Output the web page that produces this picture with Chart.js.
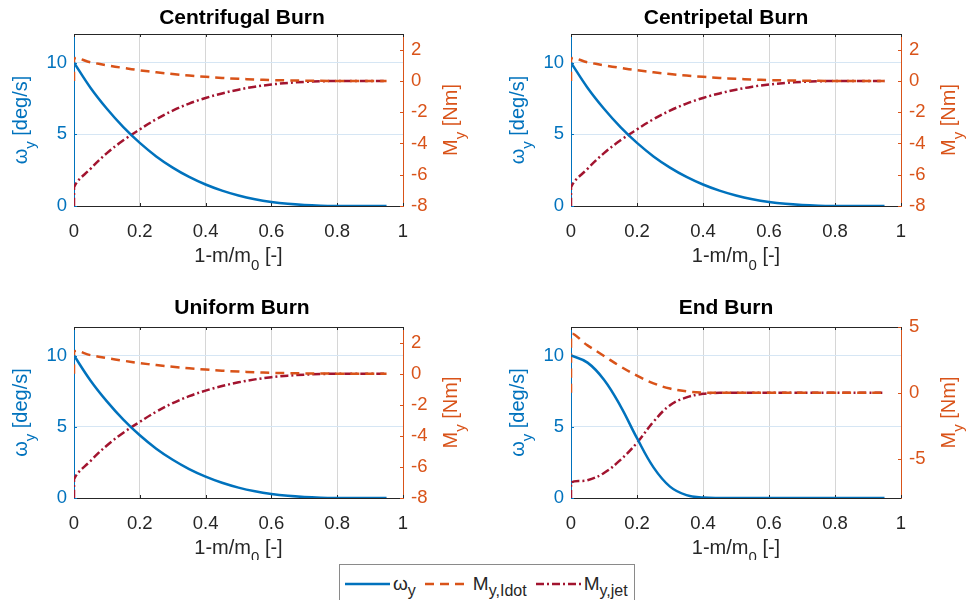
<!DOCTYPE html>
<html>
<head>
<meta charset="utf-8">
<title>Spin rate and moments vs. burned mass fraction</title>
<script src="https://cdn.jsdelivr.net/npm/chart.js@4.4.1/dist/chart.umd.min.js"></script>
<style>
  html, body { margin: 0; padding: 0; background: #fff; overflow: hidden; }
  body { width: 968px; height: 600px; position: relative; font-family: 'Liberation Sans', Arial, Helvetica, sans-serif; }
  canvas { position: absolute; }
  #legend {
    position: absolute; left: 339px; top: 564px; width: 296px; height: 46px;
    box-sizing: border-box; border: 1px solid #8a8a8a; background: #fff;
    display: flex; align-items: flex-start; padding: 9px 0 0 5px;
    font-size: 19px; color: #262626; white-space: nowrap;
  }
  #legend .item { display: flex; align-items: center; height: 20px; margin-right: 9px; }
  #legend .lbl { margin-left: 3px; line-height: 20px; }
  #legend sub { font-size: 16px; vertical-align: -6px; line-height: 0; }
</style>
</head>
<body>
<canvas id="pFugal" width="484" height="290" style="left:0;top:0"></canvas>
<canvas id="pPetal" width="484" height="290" style="left:484px;top:0"></canvas>
<canvas id="pUniform" width="484" height="270" style="left:0;top:290px"></canvas>
<canvas id="pEnd" width="484" height="270" style="left:484px;top:290px"></canvas>
<div id="legend"></div>

<script>
// burned mass fraction 1-m/m0 (first sample repeated: initial step at 0)
const massFrac = [0, 0, 0.05, 0.1, 0.15, 0.2, 0.25, 0.3, 0.35, 0.4, 0.45, 0.5, 0.55, 0.6, 0.65, 0.7, 0.75, 0.8, 0.85, 0.9, 0.95];

// centrifugal burn
const omegaFugal = [10, 10, 8.25, 6.78, 5.5, 4.4, 3.46, 2.68, 2.03, 1.5, 1.07, 0.73, 0.47, 0.28, 0.15, 0.07, 0.025, 0.005, 0, 0, 0];
const idotFugal  = [0, 1.4, 1.19, 1.0, 0.83, 0.68, 0.55, 0.44, 0.34, 0.26, 0.19, 0.135, 0.09, 0.055, 0.03, 0.015, 0.005, 0, 0, 0, 0];
const jetFugal   = [-8, -6.8, -5.62, -4.62, -3.8, -3.1, -2.45, -1.9, -1.45, -1.09, -0.8, -0.56, -0.37, -0.23, -0.13, -0.065, -0.025, -0.005, 0, 0, 0];

// centripetal burn
const omegaPetal = [10, 10, 8.25, 6.78, 5.5, 4.4, 3.46, 2.68, 2.03, 1.5, 1.07, 0.73, 0.47, 0.28, 0.15, 0.07, 0.025, 0.005, 0, 0, 0];
const idotPetal  = [0, 1.4, 1.19, 1.0, 0.83, 0.68, 0.55, 0.44, 0.34, 0.26, 0.19, 0.135, 0.09, 0.055, 0.03, 0.015, 0.005, 0, 0, 0, 0];
const jetPetal   = [-8, -6.8, -5.62, -4.62, -3.8, -3.1, -2.45, -1.9, -1.45, -1.09, -0.8, -0.56, -0.37, -0.23, -0.13, -0.065, -0.025, -0.005, 0, 0, 0];

// uniform burn
const omegaUniform = [10, 10, 8.25, 6.78, 5.5, 4.4, 3.46, 2.68, 2.03, 1.5, 1.07, 0.73, 0.47, 0.28, 0.15, 0.07, 0.025, 0.005, 0, 0, 0];
const idotUniform  = [0, 1.4, 1.19, 1.0, 0.83, 0.68, 0.55, 0.44, 0.34, 0.26, 0.19, 0.135, 0.09, 0.055, 0.03, 0.015, 0.005, 0, 0, 0, 0];
const jetUniform   = [-8, -6.8, -5.62, -4.62, -3.8, -3.1, -2.45, -1.9, -1.45, -1.09, -0.8, -0.56, -0.37, -0.23, -0.13, -0.065, -0.025, -0.005, 0, 0, 0];

// end burn
const omegaEnd = [10, 10, 9.5, 8.3, 6.45, 4.2, 2.15, 0.8, 0.2, 0.03, 0, 0, 0, 0, 0, 0, 0, 0, 0, 0, 0];
const idotEnd  = [0, 4.4, 3.6, 2.8, 2.0, 1.3, 0.72, 0.32, 0.11, 0.02, 0, 0, 0, 0, 0, 0, 0, 0, 0, 0, 0];
const jetEnd   = [-8, -6.85, -6.65, -6.1, -5.1, -3.8, -2.2, -0.95, -0.35, -0.08, 0, 0, 0, 0, 0, 0, 0, 0, 0, 0, 0];

// tick labels
const xTicks = [0, 0.2, 0.4, 0.6, 0.8, 1];
const omegaTicks = [0, 5, 10];
const momentTicks = [-8, -6, -4, -2, 0, 2];
const momentTicksEnd = [-5, 0, 5];

const seriesNames = [['ω', 'y'], ['M', 'y,Idot'], ['M', 'y,jet']];

const BLUE = '#0072BD';
const ORANGE = '#D95319';
const DARKRED = '#A2142F';
const DARK = '#262626';
const FONT = "'Liberation Sans', Arial, Helvetica, sans-serif";
const seriesColors = [BLUE, ORANGE, DARKRED];
const seriesDash = [[], [9, 6], [8, 3, 2, 3]];

Chart.defaults.font.family = FONT;

const TICK_LEN = 3;

function tickMarks(ctx, scale, x0, dir, color) {
  ctx.strokeStyle = color;
  ctx.beginPath();
  scale.ticks.forEach(t => {
    const py = Math.round(scale.getPixelForValue(t.value)) + 0.5;
    ctx.moveTo(x0, py);
    ctx.lineTo(x0 + dir * TICK_LEN, py);
  });
  ctx.stroke();
}

// text with subscripts, centred on (x, y), optionally rotated
function subText(ctx, parts, x, y, angle, color) {
  ctx.save();
  ctx.translate(x, y);
  ctx.rotate(angle);
  ctx.fillStyle = color;
  ctx.textAlign = 'left';
  ctx.textBaseline = 'alphabetic';
  const fontOf = p => p[1] ? '15px ' + FONT : '20px ' + FONT;
  let total = 0;
  parts.forEach(p => { ctx.font = fontOf(p); total += ctx.measureText(p[0]).width; });
  let cx = -total / 2;
  parts.forEach(p => {
    ctx.font = fontOf(p);
    ctx.fillText(p[0], cx, p[1] ? 15 : 7);
    cx += ctx.measureText(p[0]).width;
  });
  ctx.restore();
}

const xTitle = [['1-m/m', false], ['0', true], [' [-]', false]];
const omegaTitle = [['ω', false], ['y', true], [' [deg/s]', false]];
const momentTitle = [['M', false], ['y', true], [' [Nm]', false]];

const framePlugin = {
  id: 'frame',
  beforeDatasetsDraw(chart) {
    const { ctx, chartArea: a, scales } = chart;
    ctx.save();
    ctx.lineWidth = 1;
    ctx.strokeStyle = DARK;
    ctx.beginPath();
    ctx.moveTo(a.left, Math.round(a.top) + 0.5);
    ctx.lineTo(a.right, Math.round(a.top) + 0.5);
    scales.x.ticks.forEach(t => {
      const px = Math.round(scales.x.getPixelForValue(t.value)) + 0.5;
      ctx.moveTo(px, a.bottom);
      ctx.lineTo(px, a.bottom - TICK_LEN);
      ctx.moveTo(px, a.top);
      ctx.lineTo(px, a.top + TICK_LEN);
    });
    ctx.stroke();
    tickMarks(ctx, scales.yL, a.left, 1, BLUE);
    tickMarks(ctx, scales.yR, a.right, -1, ORANGE);
    ctx.restore();
  },
  afterDraw(chart) {
    const { ctx, chartArea: a } = chart;
    const midY = (a.top + a.bottom) / 2;
    subText(ctx, xTitle, (a.left + a.right) / 2, a.bottom + 48.5, 0, DARK);
    subText(ctx, omegaTitle, a.left - 54, midY, -Math.PI / 2, BLUE);
    subText(ctx, momentTitle, a.right + 47, midY, -Math.PI / 2, ORANGE);
  }
};

function points(arr) {
  return massFrac.map((x, i) => ({ x: x, y: arr[i] }));
}

const plainLabel = v => String(v);

function makePanel(id, title, omega, idot, jet, mMin, mMax, mTicks, area) {
  const canvas = document.getElementById(id);
  const W = canvas.width, H = canvas.height;
  const titleLine = 21 * 1.2;
  const titlePadTop = area.titleMid - titleLine / 2;
  const series = [omega, idot, jet];
  return new Chart(canvas, {
    type: 'line',
    data: {
      datasets: series.map((arr, i) => ({
        label: seriesNames[i].join('_'),
        data: points(arr),
        yAxisID: i === 0 ? 'yL' : 'yR',
        borderColor: seriesColors[i],
        borderDash: seriesDash[i],
        borderWidth: 2.5,
        pointRadius: 0,
        tension: 0.4,
        fill: false
      }))
    },
    options: {
      responsive: false,
      animation: false,
      events: [],
      layout: { padding: 0 },
      plugins: {
        legend: { display: false },
        tooltip: { enabled: false },
        title: {
          display: true,
          text: title,
          color: '#000',
          font: { size: 21, weight: 'bold', family: FONT },
          padding: { top: titlePadTop, bottom: area.top - titleLine - titlePadTop }
        }
      },
      scales: {
        x: {
          type: 'linear',
          min: 0, max: 1,
          afterBuildTicks: s => { s.ticks = xTicks.map(v => ({ value: v })); },
          afterFit: s => { s.height = H - area.bottom; },
          grid: {
            drawTicks: false,
            color: c => (c.tick.value === 0 || c.tick.value === 1) ? 'rgba(0,0,0,0)' : '#d6d6d6'
          },
          border: { color: DARK, width: 1 },
          ticks: { color: DARK, font: { size: 18.5 }, padding: 15, maxRotation: 0, autoSkip: false, callback: plainLabel }
        },
        yL: {
          position: 'left',
          min: 0, max: 12,
          afterBuildTicks: s => { s.ticks = omegaTicks.map(v => ({ value: v })); },
          afterFit: s => { s.width = area.left; },
          grid: {
            drawTicks: false,
            color: c => c.tick.value === 0 ? 'rgba(0,0,0,0)' : '#d6e6f4'
          },
          border: { color: BLUE, width: 1 },
          ticks: { color: BLUE, font: { size: 18.5 }, padding: 7, callback: plainLabel }
        },
        yR: {
          position: 'right',
          min: mMin, max: mMax,
          afterBuildTicks: s => { s.ticks = mTicks.map(v => ({ value: v })); },
          afterFit: s => { s.width = W - area.right; },
          grid: { display: false, drawTicks: false },
          border: { color: ORANGE, width: 1 },
          ticks: { color: ORANGE, font: { size: 18.5 }, padding: 8, callback: plainLabel }
        }
      }
    },
    plugins: [framePlugin]
  });
}

makePanel('pFugal', 'Centrifugal Burn', omegaFugal, idotFugal, jetFugal, -8, 3, momentTicks,
  { left: 74, right: 403, top: 34, bottom: 206, titleMid: 18 });
makePanel('pPetal', 'Centripetal Burn', omegaPetal, idotPetal, jetPetal, -8, 3, momentTicks,
  { left: 87, right: 417, top: 34, bottom: 206, titleMid: 18 });
makePanel('pUniform', 'Uniform Burn', omegaUniform, idotUniform, jetUniform, -8, 3, momentTicks,
  { left: 74, right: 403, top: 37, bottom: 208, titleMid: 18.5 });
makePanel('pEnd', 'End Burn', omegaEnd, idotEnd, jetEnd, -8, 5, momentTicksEnd,
  { left: 87, right: 417, top: 37, bottom: 208, titleMid: 18.5 });

// shared legend below the panels
const legendEl = document.getElementById('legend');
seriesNames.forEach((n, i) => {
  const item = document.createElement('span');
  item.className = 'item';
  item.innerHTML =
    '<svg width="45" height="8"><line x1="0" y1="4" x2="45" y2="4" stroke="' + seriesColors[i] +
    '" stroke-width="2.5" stroke-dasharray="' + seriesDash[i].join(' ') + '"/></svg>' +
    '<span class="lbl">' + n[0] + '<sub>' + n[1] + '</sub></span>';
  legendEl.appendChild(item);
});
</script>
</body>
</html>
